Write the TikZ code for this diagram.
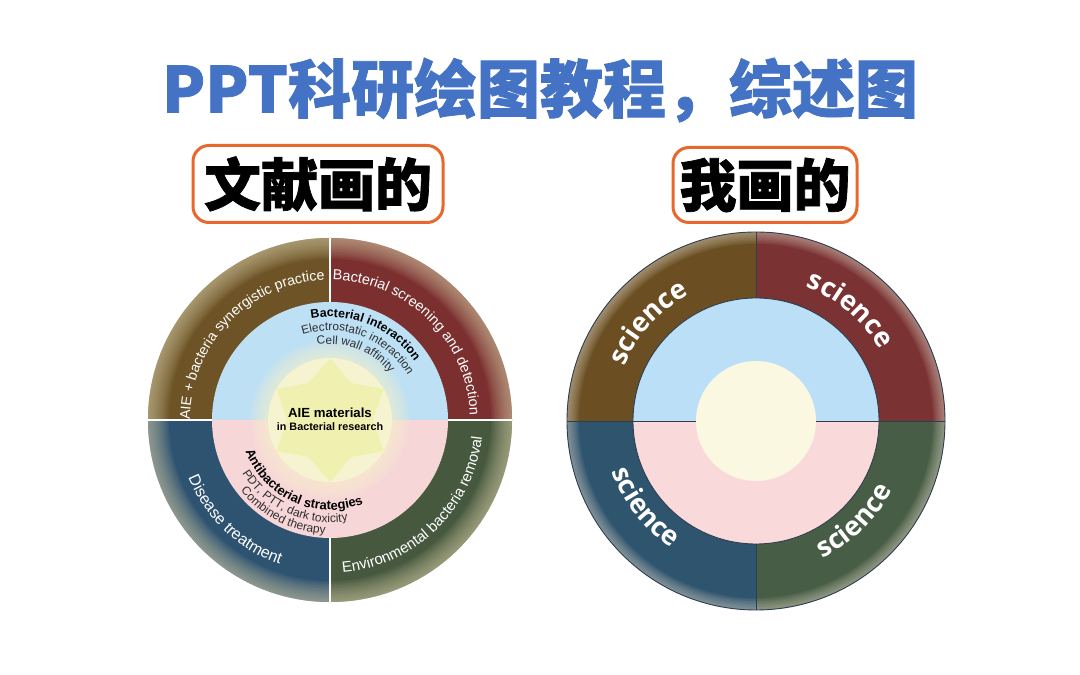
\documentclass[tikz,border=0pt]{standalone}
\usepackage{fontspec}
\usetikzlibrary{decorations.text,shapes.geometric}
\newfontfamily\lsans{Liberation Sans}
\newfontfamily\osans{Open Sans}
\newfontfamily\cjk{Noto Sans CJK SC}[BoldFeatures={FakeBold=1.2}]
\definecolor{titleblue}{HTML}{4472C4}
\definecolor{stickerorange}{HTML}{E8672C}
\definecolor{lbrown}{HTML}{6D5326}
\definecolor{lred}{HTML}{7B2F2F}
\definecolor{lblue}{HTML}{2D5371}
\definecolor{lgreen}{HTML}{46593F}
\definecolor{lglow}{HTML}{D8CFA8}
\definecolor{linblue}{HTML}{BDE0F4}
\definecolor{linpink}{HTML}{F7D6D8}
\definecolor{lcore}{HTML}{F6F4D0}
\definecolor{lstar}{HTML}{EEF0A6}
\definecolor{rbrown}{HTML}{6B4F22}
\definecolor{rred}{HTML}{7A3232}
\definecolor{rblue}{HTML}{2E546E}
\definecolor{rgreen}{HTML}{485D45}
\definecolor{rglow}{HTML}{E2DACB}
\definecolor{rinblue}{HTML}{BBDFF7}
\definecolor{rinpink}{HTML}{F9D9DA}
\definecolor{rcore}{HTML}{FAF8E1}
\definecolor{outline}{HTML}{2C3E50}
\definecolor{txtgrey}{HTML}{2E2E2E}
\newcommand\cwtext[6]{%
  \path[decorate,decoration={text along path,text align=center,text={|#5|#6}}]
    ([shift={({#3+#4}:#2)}]#1) arc[start angle={#3+#4},end angle={#3-#4},radius=#2];}
\newcommand\ccwtext[6]{%
  \path[decorate,decoration={text along path,text align=center,text={|#5|#6}}]
    ([shift={({#3-#4}:#2)}]#1) arc[start angle={#3-#4},end angle={#3+#4},radius=#2];}
\newcommand\quads[6]{% center, radius, TL, TR, BL, BR colours
  \fill[#3] (#1) -- +(90:#2) arc[start angle=90,end angle=180,radius=#2] -- cycle;
  \fill[#4] (#1) -- +(0:#2) arc[start angle=0,end angle=90,radius=#2] -- cycle;
  \fill[#5] (#1) -- +(180:#2) arc[start angle=180,end angle=270,radius=#2] -- cycle;
  \fill[#6] (#1) -- +(270:#2) arc[start angle=270,end angle=360,radius=#2] -- cycle;}
\newcommand\glowring[5]{% center, radius, count, colour, opacity
  \foreach \k in {1,...,#3}{\fill[#4,opacity=#5,even odd rule] (#1) circle[radius=#2] (#1) circle[radius={#2-1.5*\k}];}}
\tikzset{
  titletext/.style={text=titleblue,font=\cjk\bfseries\fontsize{63}{63}\selectfont,inner sep=0},
  sticker/.style={draw=stickerorange,line width=3pt,fill=white,rounded corners=16pt,
    font=\cjk\bfseries\fontsize{57}{57}\selectfont,text=black,inner sep=0},
  coretext/.style={font=\lsans\bfseries,text=black,align=center,inner sep=0}
}
\begin{document}
\begin{tikzpicture}[x=1pt,y=1pt]
\useasboundingbox (0,0) rectangle (1080,675);
\fill[white] (0,0) rectangle (1080,675);

% title and labels
\node[titletext] (title) at (540,585) {PPT科研绘图教程，综述图};
\node[sticker,minimum width=250pt,minimum height=77pt] (lit) at (318,491) {文献画的};
\node[sticker,minimum width=184pt,minimum height=75pt] (mine) at (765,490) {我画的};

% ---------------- left diagram ----------------
\coordinate (L) at (330,255);
\quads{L}{182}{lbrown}{lred}{lblue}{lgreen}
\glowring{L}{182}{14}{lglow}{0.06}
\fill[linblue] (L) -- +(0:118) arc[start angle=0,end angle=180,radius=118] -- cycle;
\fill[linpink] (L) -- +(180:118) arc[start angle=180,end angle=360,radius=118] -- cycle;
\draw[white,line width=2pt] (L) ++(90:118) -- ++(90:64);
\draw[white,line width=2pt] (L) ++(270:118) -- ++(270:64);
\draw[white,line width=2pt] (L) ++(180:118) -- ++(180:64);
\draw[white,line width=2pt] (L) ++(0:118) -- ++(0:64);
\foreach \k in {1,...,10}{\fill[lcore,opacity=0.09] (L) circle[radius={62+1.8*\k}];}
\fill[lcore] (L) circle[radius=62];
\node[star,star points=6,star point ratio=1.45,minimum size=124pt,inner sep=0,fill=lstar,opacity=0.75] (starL) at (L) {};
\node[coretext,font=\lsans\bfseries\fontsize{13.2}{15}\selectfont] (aie) at ([yshift=7]L) {AIE materials};
\node[coretext,font=\lsans\bfseries\fontsize{10.8}{13}\selectfont] (aie2) at ([yshift=-7]L) {in Bacterial research};

\cwtext{L}{140}{136}{60}{\lsans\fontsize{14.2}{16}\selectfont\color{white}}{AIE + bacteria synergistic practice}
\cwtext{L}{140}{45.4}{60}{\lsans\fontsize{14.4}{16}\selectfont\color{white}}{Bacterial screening and detection}
\ccwtext{L}{153}{226.5}{50}{\lsans\fontsize{16}{18}\selectfont\color{white}}{Disease treatment}
\ccwtext{L}{153}{314.2}{60}{\lsans\fontsize{15}{17}\selectfont\color{white}}{Environmental bacteria removal}

\cwtext{L}{103}{67.6}{60}{\lsans\bfseries\fontsize{12.3}{14}\selectfont\color{black}}{Bacterial interaction}
\cwtext{L}{89.5}{68.8}{60}{\lsans\fontsize{11.8}{14}\selectfont\color{txtgrey}}{Electrostatic interaction}
\cwtext{L}{76}{69}{55}{\lsans\fontsize{11.8}{14}\selectfont\color{txtgrey}}{Cell wall affinity}
\ccwtext{L}{90}{246}{60}{\lsans\bfseries\fontsize{13}{15}\selectfont\color{black}}{Antibacterial strategies}
\ccwtext{L}{102.5}{245.6}{55}{\lsans\fontsize{12}{14}\selectfont\color{txtgrey}}{PDT, PTT, dark toxicity}
\ccwtext{L}{114}{243}{45}{\lsans\fontsize{12}{14}\selectfont\color{txtgrey}}{Combined therapy}

% ---------------- right diagram ----------------
\coordinate (R) at (756,254);
\quads{R}{189}{rbrown}{rred}{rblue}{rgreen}
\glowring{R}{189}{8}{rglow}{0.075}
\fill[rinblue] (R) -- +(0:123) arc[start angle=0,end angle=180,radius=123] -- cycle;
\fill[rinpink] (R) -- +(180:123) arc[start angle=180,end angle=360,radius=123] -- cycle;
\fill[rcore] (R) circle[radius=60];
\draw[outline,line width=0.9pt] (R) circle[radius=189];
\draw[outline,line width=0.9pt] (R) circle[radius=123];
\draw[outline,line width=0.9pt] (R) ++(90:123) -- ++(90:66);
\draw[outline,line width=0.9pt] (R) ++(270:123) -- ++(270:66);
\draw[outline,line width=0.9pt] (R) ++(180:60) -- ++(180:129);
\draw[outline,line width=0.9pt] (R) ++(0:60) -- ++(0:129);

\cwtext{R}{142.5}{137.7}{40}{\osans\bfseries\fontsize{27}{30}\selectfont\color{white}}{science}
\cwtext{R}{143}{49.8}{40}{\osans\bfseries\fontsize{27}{30}\selectfont\color{white}}{science}
\ccwtext{R}{152.5}{217.9}{40}{\osans\bfseries\fontsize{27}{30}\selectfont\color{white}}{science}
\ccwtext{R}{152.5}{314.5}{40}{\osans\bfseries\fontsize{27}{30}\selectfont\color{white}}{science}
\end{tikzpicture}
\end{document}
